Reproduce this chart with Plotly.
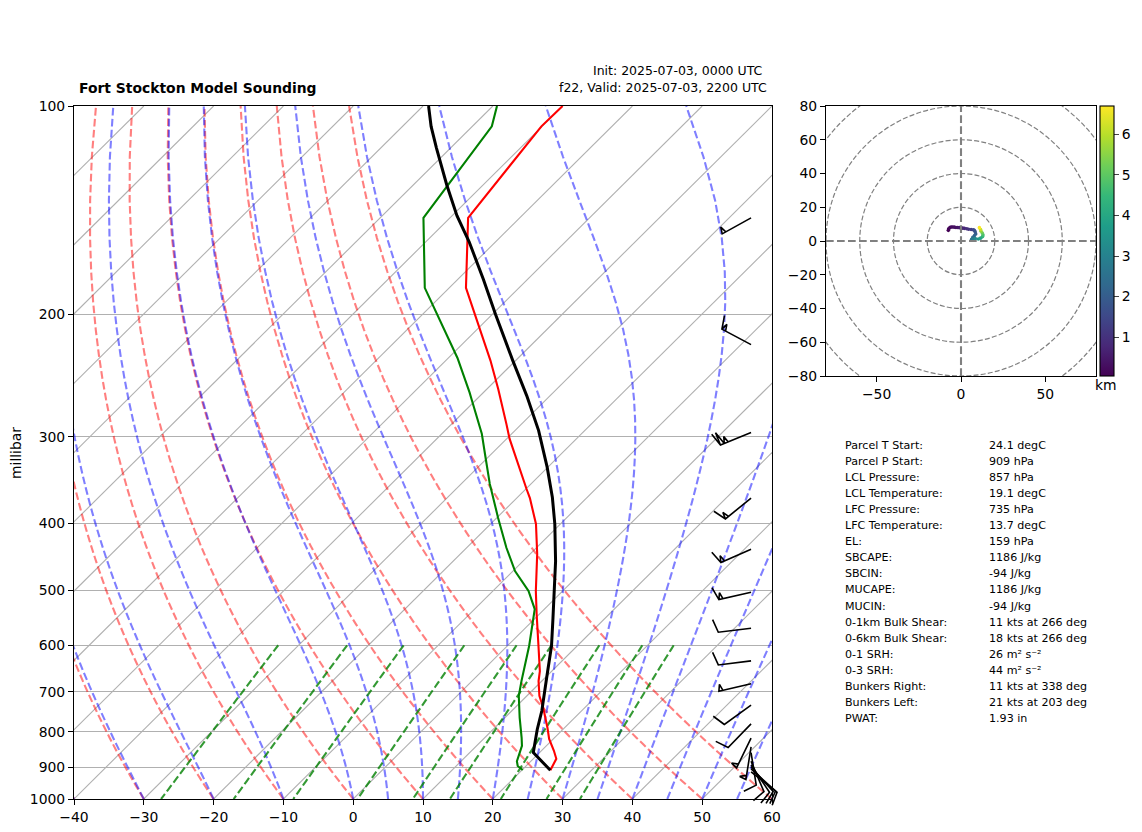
import numpy as np
import plotly.graph_objects as go

# -----------------------------------------------------------------------------
#
# Sounding values (hPa, degC)
#
# -----------------------------------------------------------------------------
temp_p = [909, 875, 852, 819, 790, 739, 710, 676, 654, 598, 541, 501, 443, 401, 368, 357,
          302, 288, 256, 233, 183, 145, 107, 100]
temp_c = [24.1, 23.3, 21.8, 19.4, 17.6, 14.1, 11.8, 9.55, 8.3, 4.2, -0.4, -3.85, -9.0, -13.5,
          -18.1, -19.9, -29.6, -32.1, -38.4, -43.6, -57.6, -67.4, -70.1, -70.0]

dewp_p = [908, 896, 882, 838, 816, 763, 710, 676, 601, 532, 501, 469, 434, 393, 351, 321,
          297, 266, 259, 231, 183, 145, 107, 100]
dewp_c = [20.1, 18.8, 18.0, 16.5, 15.3, 12.1, 8.85, 7.1, 3.1, -1.4, -4.9, -9.7, -14.3, -19.8,
          -25.9, -30.4, -34.3, -40.5, -42.0, -48.7, -63.5, -73.8, -77.2, -79.4]

parcel_p = [909, 857, 793, 746, 668, 601, 548, 454, 401, 367, 332, 294, 262, 233, 200, 178,
            157, 144, 130, 115, 107, 100]
parcel_c = [24.1, 19.1, 16.3, 14.3, 10.2, 6.3, 2.5, -5.3, -10.8, -15.0, -20.1, -26.6, -33.3,
            -40.4, -49.5, -56.3, -63.8, -69.3, -75.2, -82.0, -85.9, -89.2]

# wind barbs: pressure (hPa), speed (kt), direction (deg)
barb_p = [145, 221, 296, 368, 436, 503, 567, 632, 682, 732, 779, 817, 841, 857, 882, 893, 899, 905, 914]
barb_kt = [5, 15, 25, 15, 15, 15, 10, 10, 5, 10, 10, 5, 5, 10, 10, 10, 10, 10, 10]
barb_dir = [241, 298, 248, 231, 246, 257, 263, 263, 257, 234, 224, 206, 189, 171, 157, 146, 138, 132, 128]

# hodograph (kt, kt, km)
hodo_u = [-7.5, -7.3, -6.6, -5.9, -5, -4, -3, -2, -1, 0, 1, 2, 3.4, 4.5, 6, 7.3, 7.9, 8.4, 8.7,
          8, 7, 6.3, 7, 8.5, 10.3, 11.6, 12.8, 13, 12.6, 11.9, 11.6, 10.9]
hodo_v = [6.3, 7.2, 7.9, 8.3, 8.3, 8.2, 8, 8, 7.9, 7.8, 7.6, 7.5, 7.3, 7, 6.8, 6.6, 6.3, 5.4, 4.2,
          3.2, 2.2, 1, 1.2, 1.4, 1.2, 1.7, 2.6, 3.6, 4.7, 5.8, 6.8, 7.9]
hodo_km = [.05, .1, .15, .2, .25, .3, .35, .4, .5, .55, .65, .75, .9, 1.0, 1.2, 1.4, 1.6, 1.8, 2.0,
           2.2, 2.4, 2.6, 2.9, 3.2, 3.6, 3.9, 4.3, 4.7, 5.1, 5.6, 6.1, 6.7]

stat_labels = ['Parcel T Start:', 'Parcel P Start:', 'LCL Pressure:', 'LCL Temperature:', 'LFC Pressure:',
               'LFC Temperature:', 'EL:', 'SBCAPE:', 'SBCIN:', 'MUCAPE:', 'MUCIN:', '0-1km Bulk Shear:',
               '0-6km Bulk Shear:', '0-1 SRH:', '0-3 SRH:', 'Bunkers Right:', 'Bunkers Left:', 'PWAT:']
stat_values = ['24.1 degC', '909 hPa', '857 hPa', '19.1 degC', '735 hPa', '13.7 degC', '159 hPa', '1186 J/kg',
               '-94 J/kg', '1186 J/kg', '-94 J/kg', '11 kts at 266 deg', '18 kts at 266 deg', '26 m² s⁻²',
               '44 m² s⁻²', '11 kts at 338 deg', '21 kts at 203 deg', '1.93 in']

# starting values of the diagram's background grid (not data)
isotherm_t = list(range(-140, 70, 10))
dry_t0 = list(range(-40, 70, 10))
moist_t0 = [-40, -30, -20, -10, 0, 5, 10, 15, 20, 25, 30, 35, 40, 45, 50, 55, 60]
mixing_w = [0.0004, 0.001, 0.002, 0.004, 0.007, 0.01, 0.016, 0.024, 0.032]
p_ticks = [100, 200, 300, 400, 500, 600, 700, 800, 900, 1000]
t_ticks = list(range(-40, 70, 10))
hodo_rings = [20, 40, 60, 80, 100]

# -----------------------------------------------------------------------------
#
# Page geometry. The browser puts the figure about 8px in from the window corner.
#
# -----------------------------------------------------------------------------
W, H, OFF_X, OFF_Y = 1126, 816, 8, 7
FONT = 'DejaVu Sans'


def fx(px):
    return (px - OFF_X) / W


def fy(py):
    return 1 - (py - OFF_Y) / H


SKEW_L, SKEW_R, SKEW_T, SKEW_B = 74, 772, 105, 798
HODO_L, HODO_R, HODO_T, HODO_B = 826, 1096, 105, 375
X_PX = (SKEW_R - SKEW_L) / 100
Y_PX = SKEW_B - SKEW_T
# barbs hang past the frame, so they get a hidden pair of axes with the same scale
BARB_PAD = 20


def skew(t, p):
    # 45 degree skew in axes space, one x range per decade of pressure
    return np.asarray(t, float) + 100 * np.log10(1000 / np.asarray(p, float))


def joined(curves):
    xs, ys = [], []
    for x, y in curves:
        xs += list(x) + [None]
        ys += list(y) + [None]
    return xs, ys


def sat_mixing(t_k, p):
    e = 6.112 * np.exp(17.67 * (t_k - 273.15) / (t_k - 29.65))
    return 0.622 * e / (p - e)


def moist_slope(t_k, p):
    rs = sat_mixing(t_k, p)
    lv, rd, cp = 2.501e6, 287.05, 1005.7
    return (rd * t_k + lv * rs) / (cp + lv ** 2 * rs * 0.622 / (rd * t_k ** 2)) / p


plevels = np.linspace(1000, 100, 50)

# the adiabats and mixing lines are the thermodynamic grid of the diagram, so they
# come from their textbook definitions and only the start values are listed above
dry_curves = [(skew((t0 + 273.15) * (plevels / 1000) ** 0.2857 - 273.15, plevels), plevels) for t0 in dry_t0]

moist_curves = []
for t0 in moist_t0:
    t_k = t0 + 273.15
    out = [t_k]
    for p0, p1 in zip(plevels[:-1], plevels[1:]):
        dp = p1 - p0
        k1 = moist_slope(t_k, p0)
        k2 = moist_slope(t_k + k1 * dp / 2, p0 + dp / 2)
        k3 = moist_slope(t_k + k2 * dp / 2, p0 + dp / 2)
        k4 = moist_slope(t_k + k3 * dp, p1)
        t_k = t_k + dp * (k1 + 2 * k2 + 2 * k3 + k4) / 6
        out.append(t_k)
    moist_curves.append((skew(np.array(out) - 273.15, plevels), plevels))

mix_levels = np.linspace(600, 1000, 50)
mix_curves = []
for w in mixing_w:
    val = np.log(mix_levels * w / (0.622 + w) / 6.112)
    mix_curves.append((skew(243.5 * val / (17.67 - val), mix_levels), mix_levels))

iso_curves = [(skew([t, t], [1000, 100]), [1000, 100]) for t in isotherm_t]

# -----------------------------------------------------------------------------
#
# Wind barbs, built in screen pixels from speed and direction
#
# -----------------------------------------------------------------------------
BARB_LEN = 33
BARB_X = SKEW_L + 0.97 * (SKEW_R - SKEW_L)
barb_curves = []
for p, kt, wdir in zip(barb_p, barb_kt, barb_dir):
    a = np.radians(wdir)
    d = np.array([np.sin(a), np.cos(a)])
    n = np.array([d[1], -d[0]])
    root = np.array([BARB_X, 0.0])
    pts = [root, root + d * BARB_LEN]
    offset = BARB_LEN
    fulls, half = kt // 10, kt % 10 >= 5
    for _ in range(fulls):
        base = root + d * offset
        pts += [base + n * 0.4 * BARB_LEN + d * 0.125 * BARB_LEN, base]
        offset -= 0.125 * BARB_LEN
    if half:
        if fulls == 0:
            offset -= 0.125 * BARB_LEN
        base = root + d * offset
        pts += [base + n * 0.2 * BARB_LEN + d * 0.0625 * BARB_LEN, base]
    pts = np.array(pts)
    bx = (pts[:, 0] - SKEW_L) / X_PX - 40
    # pressure grows downward on screen, so up in pixels is lower pressure
    by = 10 ** (np.log10(p) - pts[:, 1] / Y_PX)
    barb_curves.append((bx, by))

# -----------------------------------------------------------------------------
#
# Build the figure
#
# -----------------------------------------------------------------------------
fig = go.Figure()


def add_lines(curves, color, width, dash=None, xaxis='x', yaxis='y'):
    xs, ys = joined(curves)
    fig.add_trace(go.Scatter(x=xs, y=ys, mode='lines', xaxis=xaxis, yaxis=yaxis, hoverinfo='skip',
                             line=dict(color=color, width=width, dash=dash, simplify=False)))


DASH = '7.7px,3.3px'
add_lines(iso_curves, '#b0b0b0', 1.1)
add_lines(dry_curves, 'rgba(255,0,0,0.5)', 2.1, DASH)
add_lines(moist_curves, 'rgba(0,0,255,0.5)', 2.1, DASH)
add_lines(mix_curves, 'rgba(0,128,0,0.8)', 2.1, DASH)
add_lines([(skew(temp_c, temp_p), temp_p)], '#ff0000', 2.1)
add_lines([(skew(dewp_c, dewp_p), dewp_p)], '#008000', 2.1)
add_lines([(skew(parcel_c, parcel_p), parcel_p)], 'black', 3)
add_lines(barb_curves, 'black', 1.6, xaxis='x3', yaxis='y3')

fig.add_trace(go.Scatter(
    x=hodo_u, y=hodo_v, xaxis='x2', yaxis='y2', mode='markers', hoverinfo='skip',
    marker=dict(size=3.6, color=hodo_km, colorscale='Viridis', cmin=0.04, cmax=6.7, line=dict(width=0),
                colorbar=dict(x=fx(1100), xanchor='left', xpad=0, y=fy(HODO_T), yanchor='top', ypad=0,
                              thickness=14, lenmode='pixels', len=HODO_B - HODO_T,
                              tickvals=[1, 2, 3, 4, 5, 6], ticks='outside', ticklen=5, tickwidth=1.1,
                              outlinewidth=1.1, outlinecolor='black',
                              tickfont=dict(family=FONT, size=13.9, color='black'))),
))

axis_style = dict(showline=True, linecolor='black', linewidth=1.1, mirror=True, ticks='outside', ticklen=5,
                  tickwidth=1.1, tickcolor='black', zeroline=False,
                  tickfont=dict(family=FONT, size=13.9, color='black'))

shapes = []
for r in hodo_rings:
    shapes.append(dict(type='circle', xref='x2', yref='y2', x0=-r, x1=r, y0=-r, y1=r,
                       line=dict(color='gray', width=1.2, dash='5px,2.2px')))
shapes.append(dict(type='line', xref='x2', yref='y2', x0=-80, x1=80, y0=0, y1=0,
                   line=dict(color='gray', width=2.1, dash='7.7px,3.3px')))
shapes.append(dict(type='line', xref='x2', yref='y2', x0=0, x1=0, y0=-80, y1=80,
                   line=dict(color='gray', width=2.1, dash='7.7px,3.3px')))


def note(text, px, py, size, anchor='left', bold=False, angle=0):
    return dict(text='<b>%s</b>' % text if bold else text, x=fx(px), y=fy(py), xref='paper', yref='paper',
                xanchor=anchor, yanchor='middle', showarrow=False, textangle=angle,
                font=dict(family=FONT, size=size, color='black'))


notes = [
    note('Fort Stockton Model Sounding', 77, 87, 13.9, bold=True),
    note('Init: 2025-07-03, 0000 UTC', 765, 70, 12.5, 'right'),
    note('f22, Valid: 2025-07-03, 2200 UTC', 769, 87, 12.5, 'right'),
    note('millibar', 16, 452, 13.9, 'center', angle=-90),
    note('km', 1106, 384, 13.9, 'center'),
]
for i, (label, value) in enumerate(zip(stat_labels, stat_values)):
    notes.append(note(label, 843, 444 + i * 16.1, 11.1))
    notes.append(note(value, 987, 444 + i * 16.1, 11.1))

fig.update_layout(
    width=W, height=H, autosize=False, showlegend=False,
    margin=dict(l=0, r=0, t=0, b=0, pad=0, autoexpand=False),
    plot_bgcolor='rgba(0,0,0,0)', paper_bgcolor='white', shapes=shapes, annotations=notes,
    xaxis=dict(domain=[fx(SKEW_L), fx(SKEW_R)], range=[-40, 60], tickvals=t_ticks, showgrid=False, **axis_style),
    yaxis=dict(domain=[fy(SKEW_B), fy(SKEW_T)], type='log', range=[3, 2], tickvals=p_ticks,
               showgrid=True, gridcolor='#b0b0b0', gridwidth=1.1, **axis_style),
    xaxis2=dict(domain=[fx(HODO_L), fx(HODO_R)], range=[-80, 80], tickvals=[-50, 0, 50], showgrid=False,
                anchor='y2', **axis_style),
    yaxis2=dict(domain=[fy(HODO_B), fy(HODO_T)], range=[-80, 80], tickvals=list(range(-80, 100, 20)),
                showgrid=False, anchor='x2', **axis_style),
    xaxis3=dict(domain=[fx(SKEW_L), fx(SKEW_R + BARB_PAD)], range=[-40, 60 + BARB_PAD / X_PX], visible=False,
                anchor='y3'),
    yaxis3=dict(domain=[fy(SKEW_B + BARB_PAD), fy(SKEW_T)], type='log', range=[3 + BARB_PAD / Y_PX, 2],
                visible=False, anchor='x3'),
)

fig.write_html('out.html')
